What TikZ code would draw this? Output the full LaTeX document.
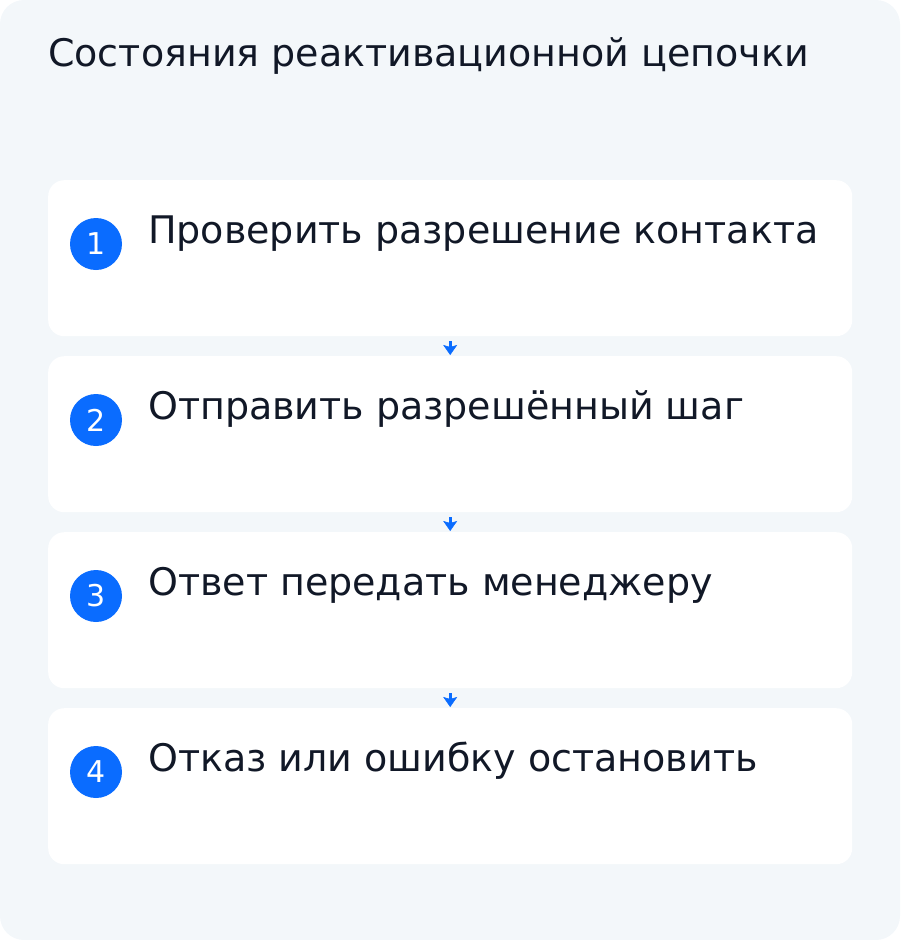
\documentclass[tikz,border=0pt]{standalone}
\usepackage{fontspec}
\setmainfont{DejaVu Sans}
\usetikzlibrary{arrows.meta}
\definecolor{bgpanel}{HTML}{F3F7FA}
\definecolor{ink}{HTML}{111827}
\definecolor{accent}{HTML}{0A6CFF}
\tikzset{
  card/.style={fill=white, rounded corners=16pt, minimum width=804pt, minimum height=156pt, inner sep=0pt, anchor=north west},
  numdot/.style={circle, fill=accent, minimum size=52pt, inner sep=0pt, text=white, font=\fontsize{30pt}{30pt}\selectfont},
  label/.style={anchor=base west, inner sep=0pt, text=ink, font=\fontsize{38pt}{38pt}\selectfont},
  flow/.style={draw=accent, line width=3pt, -{Stealth[length=10pt,width=14pt,inset=2pt,line width=0.5pt]}, shorten <=5pt, shorten >=1pt},
}
\begin{document}
\begin{tikzpicture}[x=1pt,y=-1pt]
\useasboundingbox (0,0) rectangle (900,940);
\fill[bgpanel, rounded corners=24pt] (0,0) rectangle (900,940);
\node[label] (title) at (48,66) {Состояния реактивационной цепочки};
\node[card] (c1) at (48,180) {};
\node[card] (c2) at (48,356) {};
\node[card] (c3) at (48,532) {};
\node[card] (c4) at (48,708) {};
\node[numdot] (n1) at (96,244) {1};
\node[numdot] (n2) at (96,420) {2};
\node[numdot] (n3) at (96,596) {3};
\node[numdot] (n4) at (96,772) {4};
\node[label] (t1) at (148,243) {Проверить разрешение контакта};
\node[label] (t2) at (148,419) {Отправить разрешённый шаг};
\node[label] (t3) at (148,595) {Ответ передать менеджеру};
\node[label] (t4) at (148,771) {Отказ или ошибку остановить};
\draw[flow] (c1.south) -- (c2.north);
\draw[flow] (c2.south) -- (c3.north);
\draw[flow] (c3.south) -- (c4.north);
\end{tikzpicture}
\end{document}
